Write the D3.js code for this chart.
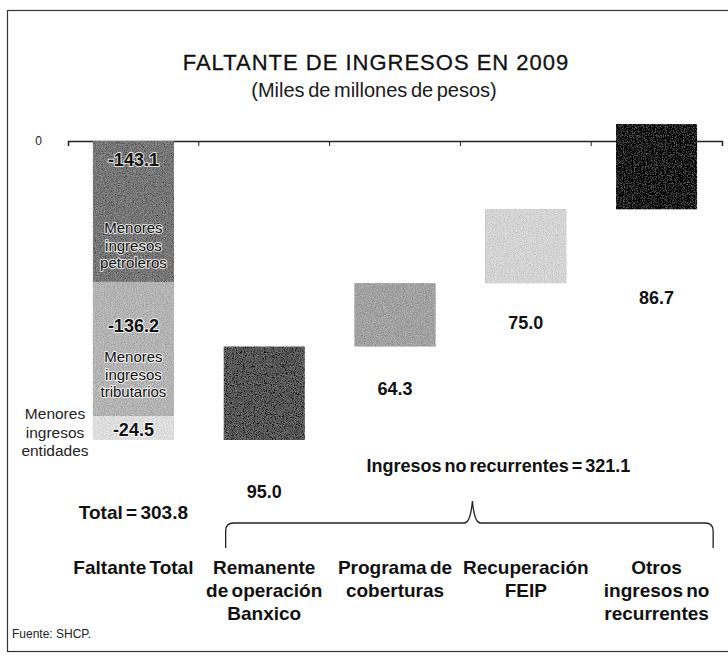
<!DOCTYPE html>
<html lang="es">
<head>
  <meta charset="UTF-8">
  <title>Faltante de ingresos en 2009</title>
  <style>
    body { margin: 0; padding: 0; background: #fff; }
    svg { display: block; font-family: "Liberation Sans", Arial, sans-serif; }
    .cat text, .val { font-weight: bold; fill: #111; }
    .halo { paint-order: stroke; stroke: #fff; stroke-width: 2px; stroke-linejoin: round; stroke-opacity: .8; }
  </style>
</head>
<body>
  <svg id="chart" width="728" height="658"></svg>

  <script src="https://cdn.jsdelivr.net/npm/d3@7/dist/d3.min.js"></script>
  <script>
  // --- data ---
  const categories   = ["Faltante Total", "Remanente de operación Banxico", "Programa de coberturas",
                        "Recuperación FEIP", "Otros ingresos no recurrentes"];
  const catLines     = [["Faltante Total"], ["Remanente", "de operación", "Banxico"], ["Programa de", "coberturas"],
                        ["Recuperación", "FEIP"], ["Otros", "ingresos no", "recurrentes"]];
  const partNames    = ["Menores ingresos petroleros", "Menores ingresos tributarios", "Menores ingresos entidades"];
  const partValues   = [-143.1, -136.2, -24.5];
  const recovValues  = [95.0, 64.3, 75.0, 86.7];
  const totalFaltante = 303.8;
  const totalNoRecurrentes = 321.1;

  // --- styles / layout ---
  const partColors  = ["#777", "#b4b4b4", "#dedede"];
  const recovColors = ["#575757", "#a2a2a2", "#d4d4d4", "#151515"];
  const recovLabelDy = [52, 42, 39, 88];   // hand placed below each bar in the original

  const svg = d3.select("#chart");
  const fmt = d3.formatLocale({ decimal: ".", thousands: ",", grouping: [3], currency: ["$", ""], minus: "-" }).format(".1f");

  // grain filter so the fills look like the scanned halftone
  const defs = svg.append("defs");
  const f = defs.append("filter").attr("id", "grain")
    .attr("x", 0).attr("y", 0).attr("width", 1).attr("height", 1);
  f.append("feTurbulence").attr("type", "fractalNoise").attr("baseFrequency", 0.9)
    .attr("numOctaves", 2).attr("seed", 3).attr("result", "noise");
  f.append("feColorMatrix").attr("in", "noise").attr("type", "matrix")
    .attr("values", "0.33 0.33 0.33 0 0  0.33 0.33 0.33 0 0  0.33 0.33 0.33 0 0  0 0 0 0 1")
    .attr("result", "gray");
  f.append("feComposite").attr("in", "SourceGraphic").attr("in2", "gray")
    .attr("operator", "arithmetic").attr("k1", 0).attr("k2", 1).attr("k3", 0.7).attr("k4", -0.35)
    .attr("result", "mix");
  f.append("feComposite").attr("in", "mix").attr("in2", "SourceAlpha").attr("operator", "in");

  // frame
  svg.append("rect")
    .attr("x", 7.5).attr("y", 10.5).attr("width", 730).attr("height", 641)
    .attr("fill", "none").attr("stroke", "#333").attr("stroke-width", 1.2);

  // titles
  svg.append("text").attr("x", 376).attr("y", 62).attr("dy", "0.35em")
    .attr("text-anchor", "middle").attr("font-size", 22).attr("letter-spacing", 1)
    .attr("fill", "#111").attr("stroke", "#111").attr("stroke-width", 0.3)
    .text("FALTANTE DE INGRESOS EN 2009");
  svg.append("text").attr("x", 374).attr("y", 90).attr("dy", "0.35em")
    .attr("text-anchor", "middle").attr("font-size", 20).attr("word-spacing", -2)
    .attr("fill", "#1a1a1a").text("(Miles de millones de pesos)");

  // scales
  const x = d3.scaleBand().domain(categories).range([68, 722])
    .paddingInner(0.38).paddingOuter(0.19);
  const y = d3.scaleLinear().domain([-totalFaltante, 0]).range([440, 141]);

  // axis at zero with ticks on the category boundaries
  const gx = svg.append("g").attr("transform", `translate(0,${y(0)})`)
    .call(d3.axisBottom(x).tickSizeInner(0).tickSizeOuter(5).tickFormat(""));
  gx.select(".domain").attr("stroke", "#222").attr("stroke-width", 1.5);
  gx.selectAll(".bound")
    .data(d3.range(1, categories.length))
    .join("line").attr("class", "bound")
      .attr("x1", i => x(categories[i]) - x.step() * x.paddingInner() / 2)
      .attr("x2", i => x(categories[i]) - x.step() * x.paddingInner() / 2)
      .attr("y1", 0).attr("y2", 5).attr("stroke", "#222");

  const gy = svg.append("g").attr("transform", "translate(44,0)")
    .call(d3.axisLeft(y).tickValues([0]).tickSize(0).tickPadding(2));
  gy.select(".domain").remove();
  gy.selectAll("text").attr("font-size", 12).attr("font-family", "Liberation Sans").attr("fill", "#222");

  // stacked faltante bar
  let cum = 0;
  const parts = partValues.map((v, i) => {
    const p = { name: partNames[i], value: v, from: cum, to: cum + v, color: partColors[i] };
    cum += v;
    return p;
  });

  // recovery bars start from the bottom of the faltante
  let base = -totalFaltante;
  const recov = recovValues.map((v, i) => {
    const r = { cat: categories[i + 1], value: v, from: base, to: base + v, color: recovColors[i] };
    base += v;
    return r;
  });

  svg.append("g").selectAll("rect")
    .data(parts)
    .join("rect")
      .attr("x", x(categories[0]))
      .attr("width", x.bandwidth())
      .attr("y", d => y(d.from))
      .attr("height", d => y(d.to) - y(d.from))
      .attr("fill", d => d.color)
      .attr("filter", "url(#grain)");

  svg.append("g").selectAll("rect")
    .data(recov)
    .join("rect")
      .attr("x", d => x(d.cat))
      .attr("width", x.bandwidth())
      .attr("y", d => y(d.to))
      .attr("height", d => y(d.from) - y(d.to))
      .attr("fill", d => d.color)
      .attr("filter", "url(#grain)");

  // labels on the faltante bar
  const cx0 = x(categories[0]) + x.bandwidth() / 2;
  const valTop = [19, 44];
  const nameBottom = [19, 24];
  parts.forEach((p, i) => {
    const top = y(p.from), bottom = y(p.to);
    const lines = p.name.split(" ");
    if (i < 2) {
      svg.append("text").attr("class", "val halo")
        .attr("x", cx0).attr("y", top + valTop[i]).attr("dy", "0.35em")
        .attr("text-anchor", "middle").attr("font-size", 18).text(fmt(p.value));
      svg.append("g").selectAll("text").data(lines).join("text")
        .attr("class", "halo")
        .attr("x", cx0)
        .attr("y", (d, j) => bottom - nameBottom[i] - (lines.length - 1 - j) * 17.5)
        .attr("dy", "0.35em").attr("text-anchor", "middle")
        .attr("font-size", 15).attr("fill", "#111").text(d => d);
    } else {
      svg.append("text").attr("class", "val halo")
        .attr("x", cx0).attr("y", (top + bottom) / 2 + 2).attr("dy", "0.35em")
        .attr("text-anchor", "middle").attr("font-size", 18).text(fmt(p.value));
      svg.append("g").selectAll("text").data(lines).join("text")
        .attr("x", 55)
        .attr("y", (d, j) => (top + bottom) / 2 - 14 + j * 18.5)
        .attr("dy", "0.35em").attr("text-anchor", "middle")
        .attr("font-size", 15.5).attr("fill", "#222").text(d => d);
    }
  });

  // value labels under the recovery bars
  svg.append("g").selectAll("text")
    .data(recov)
    .join("text")
      .attr("class", "val")
      .attr("x", d => x(d.cat) + x.bandwidth() / 2)
      .attr("y", (d, i) => y(d.from) + recovLabelDy[i])
      .attr("dy", "0.35em").attr("text-anchor", "middle")
      .attr("font-size", 18)
      .text(d => fmt(d.value));

  // totals
  svg.append("text").attr("class", "val")
    .attr("x", cx0).attr("y", 512).attr("dy", "0.35em").attr("text-anchor", "middle")
    .attr("font-size", 19).attr("word-spacing", -2)
    .text(`Total = ${fmt(totalFaltante)}`);

  // brace over the non-recurrent income categories
  const bx0 = x(categories[1]) + 2;
  const bx1 = x(categories[categories.length - 1]) + x.bandwidth() + 16;
  const bm = (bx0 + bx1) / 2 + 3;
  const yTip = 501, yLine = 523, yEnd = 548;
  svg.append("path")
    .attr("d", `M${bx0},${yEnd} L${bx0},${yLine + 8} Q${bx0},${yLine} ${bx0 + 8},${yLine}
                L${bm - 8},${yLine} Q${bm - 2},${yLine} ${bm},${yTip}
                Q${bm + 2},${yLine} ${bm + 8},${yLine} L${bx1 - 8},${yLine}
                Q${bx1},${yLine} ${bx1},${yLine + 8} L${bx1},${yEnd}`)
    .attr("fill", "none").attr("stroke", "#222").attr("stroke-width", 1.3);

  svg.append("text").attr("class", "val")
    .attr("x", bm + 26).attr("y", 466).attr("dy", "0.35em").attr("text-anchor", "middle")
    .attr("font-size", 18).attr("word-spacing", -2)
    .text(`Ingresos no recurrentes = ${fmt(totalNoRecurrentes)}`);

  // category labels
  svg.append("g").attr("class", "cat").selectAll("g")
    .data(categories)
    .join("g")
      .attr("transform", d => `translate(${x(d) + x.bandwidth() / 2},567)`)
    .selectAll("text")
    .data((d, i) => catLines[i])
    .join("text")
      .attr("y", (d, j) => j * 23)
      .attr("dy", "0.35em").attr("text-anchor", "middle")
      .attr("font-size", 19).attr("word-spacing", -2)
      .text(d => d);

  svg.append("text").attr("x", 12).attr("y", 634).attr("dy", "0.35em")
    .attr("font-size", 12).attr("fill", "#222").text("Fuente: SHCP.");
  </script>
</body>
</html>
